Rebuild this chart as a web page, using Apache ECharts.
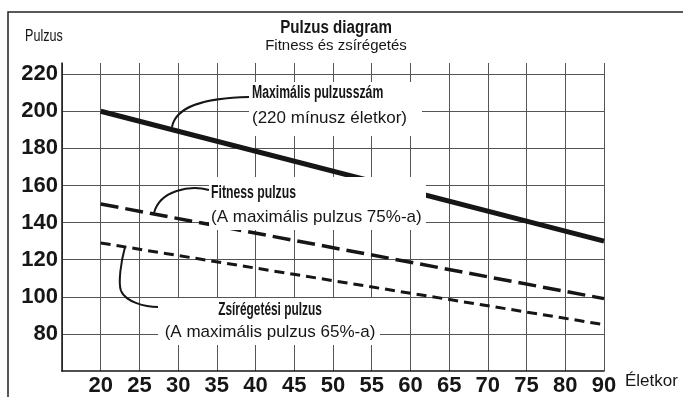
<!DOCTYPE html>
<html>
<head>
<meta charset="utf-8">
<script src="https://cdn.jsdelivr.net/npm/echarts@6/dist/echarts.min.js"></script>
<style>
  html, body { margin: 0; padding: 0; background: #fff; }
  #chart { width: 683px; height: 397px; }
</style>
</head>
<body>
<div id="chart"></div>
<script>
// Age categories along the horizontal axis
const ageLabels = ['20', '25', '30', '35', '40', '45', '50', '55', '60', '65', '70', '75', '80', '90'];
// Each pulse line runs from the first age to the last one
const lineAges = ['20', '90'];
const maxPulse = [200, 130];
const fitnessPulse = [150, 99];
const fatBurnPulse = [129, 85];
// Pulse tick values on the vertical axis
const pulseTicks = [80, 100, 120, 140, 160, 180, 200, 220];

const sans = "'Liberation Sans', 'DejaVu Sans', sans-serif";
const ink = '#161616';

const pairs = vals => lineAges.map((a, i) => [a, vals[i]]);

const chart = echarts.init(document.getElementById('chart'), null, { renderer: 'canvas' });

// white patch behind a note
function noteBox(x, y, w, h) {
  return { type: 'rect', z: 50, shape: { x, y, width: w, height: h }, style: { fill: '#fff' } };
}
// text line; bold lines are squeezed horizontally to a condensed look
function label(x, y, text, opts) {
  const o = opts || {};
  return {
    type: 'text', z: 51, x, y,
    scaleX: o.squeeze || 1,
    style: {
      text,
      fill: ink,
      font: (o.bold ? 'bold ' : '') + (o.size || 17) + 'px ' + sans,
      textAlign: o.align || 'left',
      textVerticalAlign: 'middle'
    }
  };
}
// curved pointer from a note to its line
function leader(x1, y1, cpx1, cpy1, cpx2, cpy2, x2, y2) {
  return {
    type: 'bezierCurve', z: 52,
    shape: { x1, y1, cpx1, cpy1, cpx2, cpy2, x2, y2 },
    style: { stroke: ink, lineWidth: 2, fill: null }
  };
}

chart.setOption({
  animation: false,
  grid: { left: 62, right: 79, top: 63, bottom: 25, containLabel: false },
  xAxis: {
    type: 'category',
    data: [''].concat(ageLabels),
    boundaryGap: false,
    name: 'Életkor',
    nameLocation: 'end',
    nameGap: 21,
    nameTextStyle: { fontFamily: sans, fontSize: 17, color: ink, verticalAlign: 'top', padding: [2, 0, 0, 0] },
    axisLine: { lineStyle: { color: ink, width: 1.5 } },
    axisTick: { show: false },
    axisLabel: { interval: 0, margin: 4, fontFamily: sans, fontWeight: 'bold', fontSize: 22, color: ink },
    splitLine: { show: true, interval: 0, lineStyle: { color: '#555', width: 1 } }
  },
  yAxis: {
    type: 'value',
    min: 60,
    max: 226,
    interval: 20,
    axisLine: { show: true, lineStyle: { color: ink, width: 1.5 } },
    axisTick: { show: false },
    axisLabel: {
      margin: 4,
      showMaxLabel: false,
      fontFamily: sans, fontWeight: 'bold', fontSize: 22, color: ink,
      formatter: v => (pulseTicks.indexOf(v) >= 0 ? String(v) : '')
    },
    splitLine: { show: true, showMinLine: false, showMaxLine: false, lineStyle: { color: '#555', width: 1 } }
  },
  series: [
    {
      name: 'Maximális pulzusszám', type: 'line', data: pairs(maxPulse),
      symbol: 'none', lineStyle: { color: ink, width: 5, cap: 'butt' }, z: 5
    },
    {
      name: 'Fitness pulzus', type: 'line', data: pairs(fitnessPulse),
      symbol: 'none', lineStyle: { color: ink, width: 3.5, type: [18, 7], cap: 'butt' }, z: 5
    },
    {
      name: 'Zsírégetési pulzus', type: 'line', data: pairs(fatBurnPulse),
      symbol: 'none', lineStyle: { color: ink, width: 3, type: [10, 6], cap: 'butt' }, z: 5
    }
  ],
  graphic: [
    // outer frame
    { type: 'rect', z: 60, shape: { x: 8, y: 12, width: 720, height: 420 }, style: { fill: null, stroke: '#222', lineWidth: 1.5 } },
    // heading and vertical axis title
    label(336, 28, 'Pulzus diagram', { bold: true, size: 18, squeeze: 0.84, align: 'center' }),
    label(336, 46, 'Fitness és zsírégetés', { size: 15, align: 'center' }),
    label(25, 36, 'Pulzus', { size: 17, squeeze: 0.74 }),
    // maximum pulse note
    noteBox(249, 82, 173, 54),
    label(252, 93, 'Maximális pulzusszám', { bold: true, size: 18, squeeze: 0.68 }),
    label(252, 118, '(220 mínusz életkor)'),
    leader(249, 97, 205, 98, 176, 106, 172, 127),
    // fitness note
    noteBox(209, 177, 217, 53),
    label(211, 193, 'Fitness pulzus', { bold: true, size: 18, squeeze: 0.68 }),
    label(211, 217, '(A maximális pulzus 75%-a)'),
    leader(209, 190, 190, 185, 160, 190, 154, 213),
    // fat burning note
    noteBox(158, 298, 222, 47),
    label(270, 310, 'Zsírégetési pulzus', { bold: true, size: 18, squeeze: 0.66, align: 'center' }),
    label(270, 332, '(A maximális pulzus 65%-a)', { align: 'center' }),
    leader(125, 247, 121, 262, 118, 282, 121, 291),
    leader(121, 291, 126, 302, 145, 307, 158, 307)
  ]
});
</script>
</body>
</html>
